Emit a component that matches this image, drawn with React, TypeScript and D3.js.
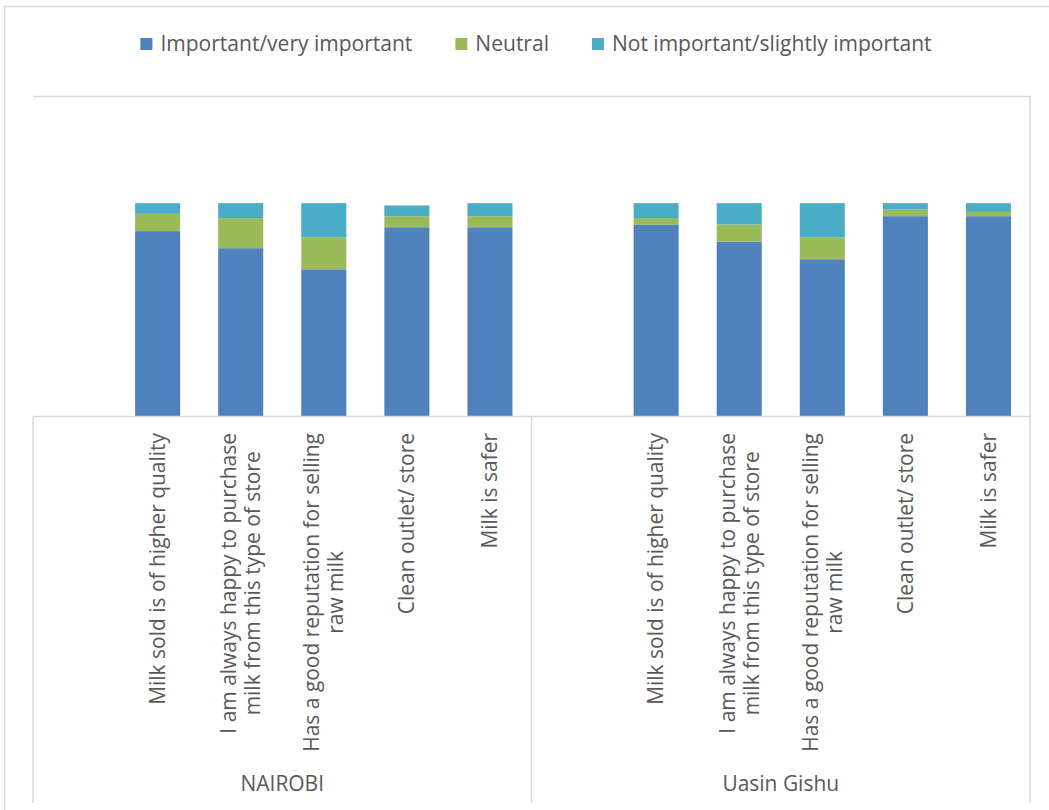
import React, { useEffect, useRef } from "react";
import * as d3 from "d3";

const groups = ["NAIROBI", "Uasin Gishu"];
const itemLines: string[][] = [
  ["Milk sold is of higher quality"],
  ["I am always happy to purchase", "milk from this type of store"],
  ["Has a good reputation for selling", "raw milk"],
  ["Clean outlet/ store"],
  ["Milk is safer"],
];
const seriesNames = ["Important/very important", "Neutral", "Not important/slightly important"];
const seriesColors = ["#4F81BD", "#9BBB59", "#4BACC6"];

const nairobiImportant = [86.9, 78.9, 69.0, 88.7, 88.7];
const nairobiNeutral = [8.1, 14.1, 15.0, 5.2, 5.2];
const nairobiNot = [5.0, 7.0, 16.0, 5.0, 6.1];
const uasinImportant = [90.0, 82.0, 73.7, 93.9, 93.9];
const uasinNeutral = [3.0, 8.0, 10.3, 3.1, 2.0];
const uasinNot = [7.0, 10.0, 16.0, 3.0, 4.1];

const groupValues = [
  [nairobiImportant, nairobiNeutral, nairobiNot],
  [uasinImportant, uasinNeutral, uasinNot],
];

export default function App() {
  const ref = useRef<SVGSVGElement>(null);
  useEffect(() => {
    const svg = d3.select(ref.current);
    svg.selectAll("*").remove();
    const font = "'Open Sans', Lato, sans-serif";
    const textColor = "#595959";
    const lineColor = "#D9D9D9";

    // fit font sizes to the reference text widths
    const fit = (s: string, target: number) => {
      const t = svg.append("text").text(s).attr("font-family", font).attr("font-size", 100);
      const len = (t.node() as SVGTextElement).getComputedTextLength();
      t.remove();
      return (100 * target) / len;
    };
    const labelSize = fit("Milk sold is of higher quality", 272);
    const legendSize = fit("Important/very important", 252);

    svg.append("rect").attr("x", 4.5).attr("y", 6.5).attr("width", 1080).attr("height", 840)
      .attr("fill", "#fff").attr("stroke", lineColor).attr("stroke-width", 1.5);

    const plot = { left: 33, right: 1030, top: 96.5, bottom: 416.5 };
    const axisBottom = 803;

    type Slot = { key: string; gi: number; ii: number };
    const slots: Slot[] = [];
    groups.forEach((g, gi) => {
      slots.push({ key: `${gi}-e`, gi, ii: -1 });
      itemLines.forEach((_, ii) => slots.push({ key: `${gi}-${ii}`, gi, ii }));
    });
    const x = d3.scaleBand<string>().domain(slots.map((s) => s.key))
      .range([plot.left, plot.right]).paddingInner(0.458).paddingOuter(0.229);
    const y = d3.scaleLinear().domain([0, 150]).range([plot.bottom, plot.top]);

    const rows: any[] = [];
    groups.forEach((g, gi) => {
      itemLines.forEach((_, ii) => {
        rows.push({ key: `${gi}-${ii}`, s0: groupValues[gi][0][ii], s1: groupValues[gi][1][ii], s2: groupValues[gi][2][ii] });
      });
    });
    const stacked = d3.stack<any>().keys(["s0", "s1", "s2"])(rows);

    svg.append("path")
      .attr("d", `M${plot.left},${plot.top}H${plot.right}V${plot.bottom}`)
      .attr("fill", "none").attr("stroke", lineColor).attr("stroke-width", 1.5);

    stacked.forEach((layer, si) => {
      svg.append("g").selectAll("rect").data(layer).join("rect")
        .attr("x", (d: any) => x(d.data.key)!)
        .attr("width", x.bandwidth())
        .attr("y", (d: any) => y(d[1]))
        .attr("height", (d: any) => y(d[0]) - y(d[1]))
        .attr("fill", seriesColors[si]);
    });

    svg.append("line").attr("x1", plot.left).attr("x2", plot.right)
      .attr("y1", plot.bottom).attr("y2", plot.bottom)
      .attr("stroke", lineColor).attr("stroke-width", 1.5);

    const gap = (x.step() - x.bandwidth()) / 2;
    const bounds: number[] = groups.map((_, gi) => x(`${gi}-e`)! - gap);
    bounds.push(plot.right);
    bounds.forEach((bx) => {
      svg.append("line").attr("x1", bx).attr("x2", bx)
        .attr("y1", bx === plot.left ? plot.top : plot.bottom).attr("y2", axisBottom)
        .attr("stroke", lineColor).attr("stroke-width", 1.5);
    });

    const lineStep = 24;
    slots.filter((s) => s.ii >= 0).forEach((s) => {
      const lines = itemLines[s.ii];
      const cx = x(s.key)! + x.bandwidth() / 2;
      const g = svg.append("g");
      const texts = lines.map((ln, li) => {
        const px = cx + (li - (lines.length - 1) / 2) * lineStep;
        return g.append("text").text(ln)
          .attr("font-family", font).attr("font-size", labelSize).attr("fill", textColor)
          .attr("text-anchor", "middle").attr("dy", "0.35em")
          .attr("data-px", px);
      });
      const maxLen = d3.max(texts, (t) => (t.node() as SVGTextElement).getComputedTextLength()) || 0;
      const py = 433 + maxLen / 2;
      texts.forEach((t) => {
        t.attr("transform", `translate(${t.attr("data-px")},${py}) rotate(-90)`);
      });
    });

    groups.forEach((g, gi) => {
      svg.append("text").text(g)
        .attr("x", (bounds[gi] + bounds[gi + 1]) / 2).attr("y", 791)
        .attr("text-anchor", "middle")
        .attr("font-family", font).attr("font-size", labelSize).attr("fill", textColor);
    });

    const sq = 12, sqGap = 8, itemGap = 43;
    const lg = svg.append("g");
    let cursor = 0;
    seriesNames.forEach((name, i) => {
      lg.append("rect").attr("x", cursor).attr("y", -sq / 2).attr("width", sq).attr("height", sq)
        .attr("fill", seriesColors[i]);
      const t = lg.append("text").text(name).attr("x", cursor + sq + sqGap).attr("dy", "0.35em")
        .attr("font-family", font).attr("font-size", legendSize).attr("fill", textColor);
      cursor += sq + sqGap + (t.node() as SVGTextElement).getComputedTextLength() + itemGap;
    });
    const total = cursor - itemGap;
    lg.attr("transform", `translate(${536 - total / 2},44)`);
  }, []);
  return <svg ref={ref} width={1049} height={810} style={{ position: "absolute", left: 0, top: 0 }} />;
}
